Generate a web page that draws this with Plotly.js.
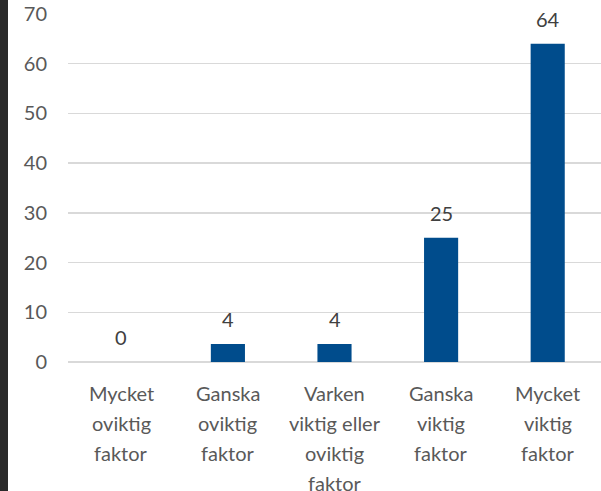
<!DOCTYPE html>
<html>
<head>
<meta charset="utf-8">
<script src="https://cdn.plot.ly/plotly-3.0.1.min.js"></script>
<style>
html,body{margin:0;padding:0;background:#fff;}
#wrap{position:relative;width:601px;height:491px;overflow:hidden;}
#chart{position:absolute;left:0;top:0;width:601px;height:491px;}
#strip{position:absolute;left:0;top:0;width:8px;height:491px;background:#2a2a2a;}
</style>
</head>
<body>
<div id="wrap"><div id="chart"></div><div id="strip"></div></div>
<script>
const categories = ["Mycket oviktig faktor", "Ganska oviktig faktor", "Varken viktig eller oviktig faktor", "Ganska viktig faktor", "Mycket viktig faktor"];
const labelLines = [["Mycket","oviktig","faktor"],["Ganska","oviktig","faktor"],["Varken","viktig eller","oviktig","faktor"],["Ganska","viktig","faktor"],["Mycket","viktig","faktor"]];
const values = [0, 3.6, 3.6, 25, 64];
const valueLabels = ["0", "4", "4", "25", "64"];
const yTicks = [0, 10, 20, 30, 40, 50, 60, 70];

const FONT = "Lato, 'Open Sans', sans-serif";
const annotations = [];
categories.forEach((c, i) => {
  annotations.push({x: c, y: values[i], xref: 'x', yref: 'y', text: valueLabels[i], showarrow: false,
    yanchor: 'middle', yshift: 25, font: {family: FONT, size: 20, color: '#404040'}});
  labelLines[i].forEach((ln, j) => {
    annotations.push({x: c, y: 0, xref: 'x', yref: 'paper', text: ln, showarrow: false,
      yanchor: 'middle', yshift: -31 - 30 * j, font: {family: FONT, size: 20, color: '#595959'}});
  });
});

Plotly.newPlot('chart', [{
  type: 'bar', x: categories, y: values,
  marker: {color: '#004c8c'}, hoverinfo: 'none'
}], {
  width: 601, height: 491,
  margin: {l: 68, r: 0, t: 14, b: 129, pad: 0},
  paper_bgcolor: '#fff', plot_bgcolor: '#fff',
  bargap: 0.68, showlegend: false,
  font: {family: FONT, size: 20, color: '#595959'},
  xaxis: {type: 'category', showticklabels: false, showgrid: false, zeroline: false, showline: false, ticks: ''},
  yaxis: {range: [0, 70], tickvals: yTicks, ticktext: yTicks.map(String), showgrid: true,
    gridcolor: '#d9d9d9', gridwidth: 1.5, zeroline: true, zerolinecolor: '#d9d9d9', zerolinewidth: 1.5,
    showline: false, ticks: '', ticklabelstandoff: 20, tickfont: {family: FONT, size: 20, color: '#595959'}},
  annotations: annotations
}, {staticPlot: true});
</script>
</body>
</html>
